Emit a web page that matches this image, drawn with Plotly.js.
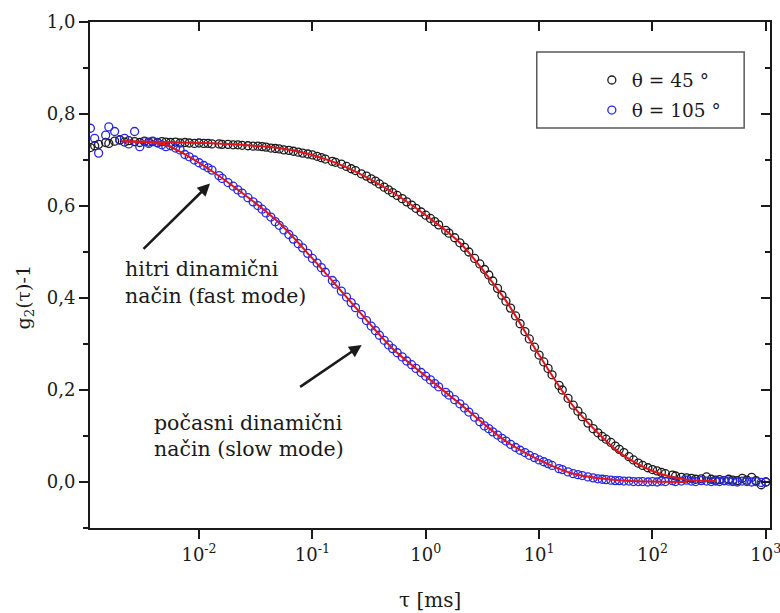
<!DOCTYPE html>
<html>
<head>
<meta charset="utf-8">
<script src="https://cdn.plot.ly/plotly-3.0.1.min.js"></script>
<style>
html,body{margin:0;padding:0;background:#fff;}
#chart{width:780px;height:613px;}
</style>
</head>
<body>
<div id="chart"></div>
<script>
// lag times (ms)
const tau = [
1.1e-3,1.2e-3,1.3e-3,1.5e-3,1.6e-3,1.8e-3,2.0e-3,2.2e-3,2.4e-3,2.7e-3,3.0e-3,3.3e-3,3.6e-3,3.9e-3,4.3e-3,4.7e-3,5.1e-3,5.6e-3,6.2e-3,6.8e-3,7.5e-3,8.2e-3,9.1e-3,
1.0e-2,1.1e-2,1.2e-2,1.3e-2,1.5e-2,1.6e-2,1.8e-2,2.0e-2,2.2e-2,2.4e-2,2.7e-2,3.0e-2,3.3e-2,3.6e-2,3.9e-2,4.3e-2,4.7e-2,5.1e-2,5.6e-2,6.2e-2,6.8e-2,7.5e-2,8.2e-2,9.1e-2,
0.10,0.11,0.12,0.13,0.15,0.16,0.18,0.20,0.22,0.24,0.27,0.30,0.33,0.36,0.39,0.43,0.47,0.51,0.56,0.62,0.68,0.75,0.82,0.91,
1.0,1.1,1.2,1.3,1.5,1.6,1.8,2.0,2.2,2.4,2.7,3.0,3.3,3.6,3.9,4.3,4.7,5.1,5.6,6.2,6.8,7.5,8.2,9.1,
10,11,12,13,15,16,18,20,22,24,27,30,33,36,39,43,47,51,56,62,68,75,82,91,
100,110,120,130,150,160,180,200,220,240,270,300,330,360,390,430,470,510,560,620,680,750,820,910,
1000];

// θ = 45°
const g45 = [
0.727,0.731,0.734,0.738,0.736,0.741,0.744,0.739,0.742,0.740,0.738,0.741,0.739,0.740,0.738,0.740,0.739,0.738,0.739,0.737,0.738,0.737,0.736,
0.737,0.736,0.736,0.735,0.735,0.734,0.734,0.733,0.733,0.732,0.731,0.730,0.730,0.729,0.728,0.726,0.725,0.724,0.722,0.721,0.719,0.717,0.715,0.713,
0.711,0.708,0.705,0.702,0.697,0.695,0.691,0.686,0.681,0.677,0.670,0.665,0.659,0.654,0.648,0.641,0.635,0.629,0.623,0.616,0.609,0.602,0.595,0.587,
0.580,0.573,0.566,0.559,0.547,0.541,0.531,0.520,0.510,0.500,0.486,0.474,0.462,0.450,0.437,0.421,0.406,0.393,0.378,0.361,0.344,0.327,0.311,0.293,
0.276,0.261,0.247,0.233,0.210,0.200,0.182,0.167,0.154,0.142,0.128,0.116,0.107,0.099,0.093,0.086,0.078,0.071,0.064,0.055,0.048,0.041,0.036,0.031,
0.027,0.024,0.021,0.018,0.015,0.013,0.010,0.009,0.008,0.006,0.007,0.011,0.006,0.004,0.005,0.003,0.006,0.004,0.003,0.008,0.004,0.010,0.003,-0.006,
0.000];

// θ = 105°
const g105 = [
0.769,0.747,0.715,0.754,0.772,0.762,0.743,0.747,0.735,0.762,0.729,0.740,0.736,0.741,0.737,0.733,0.729,0.731,0.726,0.722,0.712,0.707,0.700,
0.694,0.688,0.683,0.678,0.666,0.660,0.651,0.643,0.635,0.628,0.618,0.609,0.601,0.593,0.585,0.576,0.566,0.558,0.548,0.538,0.528,0.518,0.509,0.497,
0.486,0.476,0.466,0.456,0.438,0.430,0.415,0.402,0.390,0.379,0.364,0.351,0.339,0.329,0.319,0.308,0.298,0.290,0.281,0.272,0.263,0.255,0.247,0.238,
0.230,0.222,0.214,0.207,0.195,0.189,0.179,0.170,0.161,0.152,0.141,0.131,0.122,0.116,0.109,0.102,0.095,0.089,0.082,0.075,0.069,0.064,0.058,0.053,
0.048,0.044,0.040,0.036,0.029,0.027,0.022,0.018,0.016,0.014,0.011,0.009,0.007,0.006,0.005,0.004,0.003,0.003,0.002,0.002,0.001,0.001,0.001,0.000,
0.001,0.000,0.002,0.001,0.003,0.001,0.002,0.004,0.002,0.001,0.003,0.002,0.001,0.002,0.001,0.003,0.002,0.001,0.000,0.002,0.001,0.000,0.001,-0.001,
0.000];

// fitted curves
const fitTau45 = [0.0021,0.005,0.01,0.02,0.05,0.1,0.2,0.5,1,2,5,10,20,50,100,200,370];
const fit45    = [0.741,0.739,0.737,0.734,0.726,0.711,0.684,0.631,0.580,0.520,0.397,0.276,0.165,0.066,0.024,0.005,0.002];
const fitTau105 = [0.0021,0.005,0.01,0.02,0.05,0.1,0.2,0.5,1,2,5,10,20,50,100,200];
const fit105    = [0.741,0.733,0.694,0.643,0.565,0.486,0.402,0.292,0.230,0.170,0.090,0.048,0.018,0.004,0.001,0.000];

const xTickVals = [0.01,0.1,1,10,100,1000];
const xTickText = ['10<sup>-2</sup>','10<sup>-1</sup>','10<sup>0</sup>','10<sup>1</sup>','10<sup>2</sup>','10<sup>3</sup>'];
const seriesNames = ['\u03b8 = 45 \u00b0','\u03b8 = 105 \u00b0'];

const INK = '#1a1a1a';
const BLUE = '#2626e6';
const RED = '#e3131b';
const FONT = 'DejaVu Serif';
const xr = [-2.962, 3.037];
const yr = [-0.1, 1.0];

const traces = [
  {x: tau, y: g45, type:'scatter', mode:'markers', name: seriesNames[0], legendgroup:'a',
   marker:{symbol:'circle-open', size:8, color:INK, line:{width:1.3, color:INK}}, hoverinfo:'skip'},
  {x: tau, y: g105, type:'scatter', mode:'markers', name: seriesNames[1], legendgroup:'b',
   marker:{symbol:'circle-open', size:8, color:BLUE, line:{width:1.3, color:BLUE}}, hoverinfo:'skip'},
  {x: fitTau45, y: fit45, type:'scatter', mode:'lines', xaxis:'x2', yaxis:'y2', showlegend:false,
   line:{color:RED, width:2, shape:'spline', smoothing:0.8}, hoverinfo:'skip'},
  {x: fitTau105, y: fit105, type:'scatter', mode:'lines', xaxis:'x2', yaxis:'y2', showlegend:false,
   line:{color:RED, width:2, shape:'spline', smoothing:0.8}, hoverinfo:'skip'}
];

const axCommon = {showgrid:false, zeroline:false, showline:true, linecolor:INK, linewidth:2,
  tickcolor:INK, tickwidth:2, ticklen:9};

const layout = {
  width:780, height:613,
  margin:{l:90, r:10, t:22, b:85},
  paper_bgcolor:'#ffffff', plot_bgcolor:'#ffffff',
  separators:',.',
  font:{family:FONT, color:INK, size:18},
  showlegend:true,
  legend:{x:0.738, y:0.922, xanchor:'left', yanchor:'top', bgcolor:'rgba(0,0,0,0)', borderwidth:0,
    tracegroupgap:3, font:{family:FONT, size:18.5, color:INK}},
  xaxis: Object.assign({}, axCommon, {type:'log', range:xr, ticks:'outside', ticklabeloverflow:'allow',
    tickvals:xTickVals, ticktext:xTickText, tickfont:{family:FONT, size:18, color:INK}}),
  yaxis: Object.assign({}, axCommon, {range:yr, ticks:'outside', tick0:0, dtick:0.2, tickformat:'.1f',
    tickfont:{family:FONT, size:18, color:INK},
    minor:{dtick:0.1, ticks:'outside', ticklen:5, tickwidth:2, tickcolor:INK, showgrid:false}}),
  xaxis2: Object.assign({}, axCommon, {type:'log', range:xr, overlaying:'x', side:'top', anchor:'y2',
    ticks:'inside', tickvals:xTickVals, showticklabels:false}),
  yaxis2: Object.assign({}, axCommon, {range:yr, overlaying:'y', side:'right', anchor:'x2',
    ticks:'inside', tick0:0, dtick:0.2, showticklabels:false,
    minor:{dtick:0.1, ticks:'inside', ticklen:5, tickwidth:2, tickcolor:INK, showgrid:false}}),
  shapes:[
    {type:'rect', xref:'paper', yref:'paper', x0:0.657, x1:0.962, y0:0.7905, y1:0.9407,
     line:{color:'#5a5a5a', width:1.5}, fillcolor:'rgba(0,0,0,0)'}
  ],
  annotations:[
    {xref:'paper', yref:'paper', x:0.5, y:-0.1423, xanchor:'center', yanchor:'middle', showarrow:false,
     text:'\u03c4 [ms]', font:{family:FONT, size:20, color:INK}},
    {xref:'paper', yref:'paper', x:-0.0956, y:0.4575, xanchor:'center', yanchor:'middle', showarrow:false,
     textangle:-90, text:'g<sub>2</sub>(\u03c4)-1', font:{family:FONT, size:19, color:INK}},
    {xref:'paper', yref:'paper', x:0.0485, y:0.512, xanchor:'left', yanchor:'middle', showarrow:false,
     text:'hitri dinami\u010dni', font:{family:FONT, size:20.5, color:INK}},
    {xref:'paper', yref:'paper', x:0.0485, y:0.4585, xanchor:'left', yanchor:'middle', showarrow:false,
     text:'na\u010din (fast mode)', font:{family:FONT, size:20.5, color:INK}},
    {xref:'paper', yref:'paper', x:0.0912, y:0.2081, xanchor:'left', yanchor:'middle', showarrow:false,
     text:'po\u010dasni dinami\u010dni', font:{family:FONT, size:20.5, color:INK}},
    {xref:'paper', yref:'paper', x:0.0912, y:0.1555, xanchor:'left', yanchor:'middle', showarrow:false,
     text:'na\u010din (slow mode)', font:{family:FONT, size:20.5, color:INK}},
    {xref:'x', yref:'y', x:Math.log10(0.0125), y:0.649, ax:-68, ay:67, text:'', showarrow:true,
     arrowhead:2, arrowsize:1, arrowwidth:2.5, arrowcolor:INK, standoff:0},
    {xref:'x', yref:'y', x:Math.log10(0.272), y:0.298, ax:-63, ay:43, text:'', showarrow:true,
     arrowhead:2, arrowsize:1, arrowwidth:2.5, arrowcolor:INK, standoff:0}
  ]
};

Plotly.newPlot('chart', traces, layout, {staticPlot:true, displayModeBar:false});
</script>
</body>
</html>
